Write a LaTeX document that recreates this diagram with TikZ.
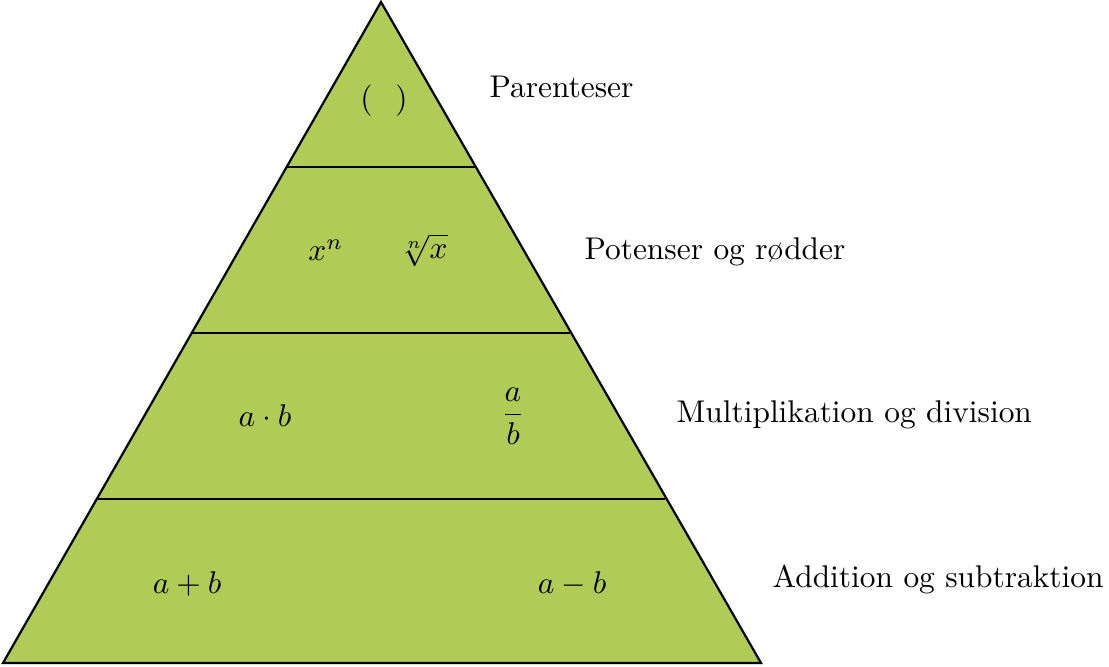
\documentclass[tikz,border=0pt]{standalone}
\definecolor{pyrgreen}{RGB}{176,203,86}
\begin{document}
\begin{tikzpicture}[x=0.3185pt,y=-0.3185pt,
  lvl/.style={line width=0.7pt},
  lab/.style={anchor=west, inner sep=0pt},
  math/.style={inner sep=0pt}]
\useasboundingbox (0,0) rectangle (1109,667);
\coordinate (apex) at (381,2);
\coordinate (bl) at (3,663);
\coordinate (br) at (761,663);
\filldraw[fill=pyrgreen, lvl, line join=miter] (apex) -- (bl) -- (br) -- cycle;
\coordinate (l1) at (286.6,167); \coordinate (r1) at (475.4,167);
\coordinate (l2) at (191.7,333); \coordinate (r2) at (570.3,333);
\coordinate (l3) at (97,499); \coordinate (r3) at (665,499);
\draw[lvl] (l1) -- (r1);
\draw[lvl] (l2) -- (r2);
\draw[lvl] (l3) -- (r3);
\node[math] (par) at (384,101) {$(\;\;\,)$};
\node[math] (pot) at (326,250) {$x^n$};
\node[math] (rod) at (423,250) {$\sqrt[n]{x}$};
\node[math] (mul) at (265,416) {$a\cdot b$};
\node[math] (div) at (513,416) {$\displaystyle\frac{a}{b}$};
\node[math] (add) at (187,584) {$a+b$};
\node[math] (sub) at (572,584) {$a-b$};
\node[lab] (t1) at (489,87) {Parenteser};
\node[lab] (t2) at (584,252) {Potenser og rødder};
\node[lab] (t3) at (676,415) {Multiplikation og division};
\node[lab] (t4) at (772,579) {Addition og subtraktion};
\end{tikzpicture}
\end{document}
